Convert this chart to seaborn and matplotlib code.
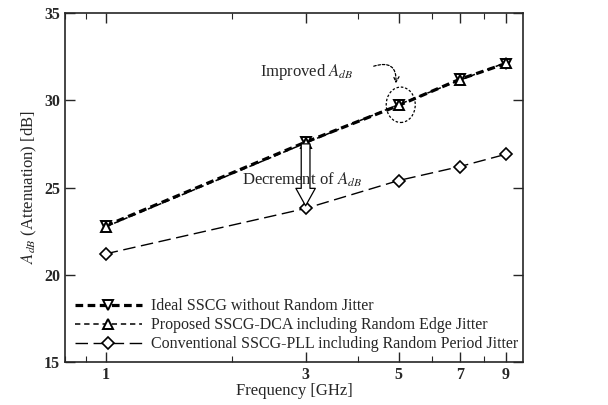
import numpy as np
import pandas as pd
import seaborn as sns
import matplotlib.pyplot as plt
import matplotlib.path as mpath
from matplotlib.transforms import Affine2D
from matplotlib.ticker import NullFormatter, LogLocator

# data
freq = [1, 3, 5, 7, 9]
ideal = [22.8, 27.6, 29.7, 31.2, 32.1]
proposed = [22.75, 27.55, 29.75, 31.15, 32.15]
conventional = [21.2, 23.8, 25.4, 26.2, 26.9]
labels = ['Ideal SSCG without Random Jitter',
          'Proposed SSCG-DCA including Random Edge Jitter',
          'Conventional SSCG-PLL including Random Period Jitter']

sns.set_style('ticks')
plt.rcParams['font.family'] = ['Liberation Serif', 'DejaVu Serif']
plt.rcParams['mathtext.fontset'] = 'stix'

fig = plt.figure(figsize=(6.08, 4.05), dpi=100)
ax = fig.add_axes([0.107, 0.106, 0.753, 0.862])

sns.lineplot(x=freq, y=ideal, ax=ax, color='black', lw=2.3, linestyle=(0, (2.4, 1.4)),
             marker='v', ms=7, mfc='white', mec='black', mew=1.4, label=labels[0])
sns.lineplot(x=freq, y=proposed, ax=ax, color='black', lw=1.1, linestyle=(0, (3.5, 2.5)),
             marker='^', ms=7, mfc='white', mec='black', mew=1.4, label=labels[1])
sns.lineplot(x=freq, y=conventional, ax=ax, color='black', lw=1.0, linestyle=(0, (9, 4)),
             marker='D', ms=6, mfc='white', mec='black', mew=1.2, label=labels[2])

ax.set_xscale('log')
ax.set_xlim(0.8, 9.9)
ax.set_ylim(15, 35)
ax.set_xticks(freq)
ax.set_xticklabels([str(f) for f in freq])
ax.xaxis.set_minor_locator(LogLocator(base=10, subs=np.arange(2, 10) * 0.1 * 10 / 10, numticks=20))
ax.xaxis.set_minor_formatter(NullFormatter())
ax.set_yticks([15, 20, 25, 30, 35])
ax.tick_params(which='both', direction='in', top=True, right=True, labelsize=11.5)
ax.tick_params(which='major', length=7, width=1)
ax.tick_params(which='minor', length=4.5, width=0.8)
for lab in ax.get_xticklabels() + ax.get_yticklabels():
    lab.set_fontweight('bold')
for s in ax.spines.values():
    s.set_linewidth(1.2)

ax.set_xlabel('Frequency [GHz]', fontsize=12, labelpad=0)
ax.set_ylabel('$A_{dB}$ (Attenuation) [dB]', fontsize=12, labelpad=4)

leg = ax.legend(loc='lower left', frameon=False, fontsize=11.5, handlelength=4.2,
                labelspacing=0.2, borderaxespad=0.2, handletextpad=0.6)

# annotations
ax.text(2.33, 31.6, 'Improved $A_{dB}$', fontsize=12, va='center', ha='left')
ax.annotate('', xy=(4.92, 30.8), xytext=(4.3, 31.9),
            arrowprops=dict(arrowstyle='->', linestyle=(0, (2, 1.5)), lw=0.9,
                            connectionstyle='arc3,rad=-0.8', color='black'))
ell = mpath.Path.unit_circle().transformed(Affine2D().scale(1.0, 1.22))
ax.scatter([5.06], [29.74], marker=ell, s=650, facecolors='none', edgecolors='black',
           linewidths=0.9, linestyle=(0, (2, 1.5)), zorder=5)

ax.annotate('', xy=(3, 23.95), xytext=(3, 27.5),
            arrowprops=dict(arrowstyle='simple,head_length=0.9,head_width=1.0,tail_width=0.45',
                            fc='white', ec='black', lw=0.9, mutation_scale=14,
                            shrinkA=0, shrinkB=0))
ax.text(2.12, 25.46, 'Decrement of $A_{dB}$', fontsize=12, va='center', ha='left')

fig.savefig('out.png', dpi=100)
